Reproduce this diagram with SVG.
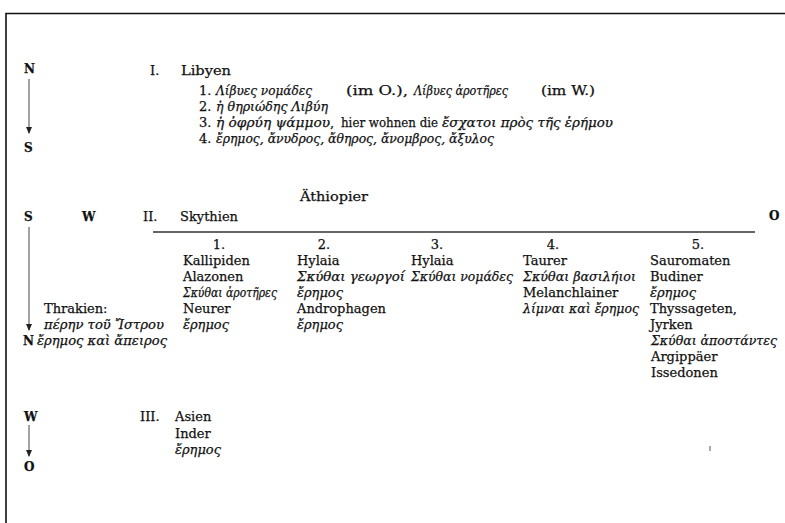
<svg xmlns="http://www.w3.org/2000/svg" width="785" height="523" viewBox="0 0 785 523">
<defs>
<style>
text{font-family:"DejaVu Serif","Liberation Serif",serif;font-size:13px;fill:#111;stroke:#111;stroke-width:0.25}
.i{font-style:italic}
.b{font-weight:bold;font-size:12px}
.ax{stroke:#444;stroke-width:1;fill:none}
</style>
</defs>
<rect width="785" height="523" fill="#fff"/>
<path d="M6,523 V13.5 H785" fill="none" stroke="#111" stroke-width="1.6"/>

<g id="connectors">
<line class="ax" x1="29" y1="79" x2="29" y2="133"/>
<path d="M26,127 L29,134 L32,127 Z" fill="#222"/>
<line class="ax" x1="29" y1="227" x2="29" y2="330"/>
<path d="M26,324 L29,331 L32,324 Z" fill="#222"/>
<line class="ax" x1="29" y1="425" x2="29" y2="456"/>
<path d="M26,450 L29,457 L32,450 Z" fill="#222"/>
<line x1="153" y1="232" x2="755" y2="232" stroke="#333" stroke-width="1.3"/>
<line x1="710" y1="446" x2="710" y2="451" stroke="#555" stroke-width="1"/>
</g>

<g id="compass1">
<text x="24" y="73" class="b">N</text>
<text x="24" y="152" class="b">S</text>
</g>

<g id="libyen">
<text x="150" y="75">I.</text>
<text x="181" y="75" textLength="50" lengthAdjust="spacingAndGlyphs">Libyen</text>
<text x="199" y="95">1.</text>
<text x="216" y="95" class="i" textLength="96" lengthAdjust="spacingAndGlyphs">Λίβυες νομάδες</text>
<text x="346" y="95" textLength="62" lengthAdjust="spacingAndGlyphs">(im O.),</text>
<text x="414" y="95" class="i" textLength="94" lengthAdjust="spacingAndGlyphs">Λίβυες ἀροτῆρες</text>
<text x="541" y="95" textLength="54" lengthAdjust="spacingAndGlyphs">(im W.)</text>
<text x="199" y="111">2.</text>
<text x="216" y="111" class="i" textLength="112" lengthAdjust="spacingAndGlyphs">ἡ θηριώδης Λιβύη</text>
<text x="199" y="127">3.</text>
<text x="216" y="127" class="i" textLength="114" lengthAdjust="spacingAndGlyphs">ἡ ὀφρύη ψάμμου</text>
<text x="330" y="127">,</text>
<text x="341" y="127" textLength="97" lengthAdjust="spacingAndGlyphs">hier wohnen die</text>
<text x="442" y="127" class="i" textLength="171" lengthAdjust="spacingAndGlyphs">ἔσχατοι πρὸς τῆς ἐρήμου</text>
<text x="199" y="143">4.</text>
<text x="216" y="143" class="i" textLength="278" lengthAdjust="spacingAndGlyphs">ἔρημος, ἄνυδρος, ἄθηρος, ἄνομβρος, ἄξυλος</text>
</g>

<g id="aethiopier">
<text x="300" y="201" textLength="68" lengthAdjust="spacingAndGlyphs">Äthiopier</text>
</g>

<g id="compass2">
<text x="24" y="221" class="b">S</text>
<text x="82" y="221" class="b">W</text>
<text x="769" y="220" class="b">O</text>
<text x="23" y="345" class="b">N</text>
</g>

<g id="skythien">
<text x="143" y="221">II.</text>
<text x="180" y="221">Skythien</text>
</g>

<g id="thrakien">
<text x="44" y="313">Thrakien:</text>
<text x="44" y="329" class="i" textLength="120" lengthAdjust="spacingAndGlyphs">πέρην τοῦ Ἴστρου</text>
<text x="37" y="345" class="i" textLength="130" lengthAdjust="spacingAndGlyphs">ἔρημος καὶ ἄπειρος</text>
</g>

<g id="col1">
<text x="219" y="249" text-anchor="middle">1.</text>
<text x="183" y="265">Kallipiden</text>
<text x="183" y="281">Alazonen</text>
<text x="183" y="297" class="i" textLength="94" lengthAdjust="spacingAndGlyphs">Σκύθαι ἀροτῆρες</text>
<text x="183" y="313">Neurer</text>
<text x="183" y="329" class="i">ἔρημος</text>
</g>

<g id="col2">
<text x="324" y="249" text-anchor="middle">2.</text>
<text x="297" y="265">Hylaia</text>
<text x="297" y="281" class="i" textLength="108" lengthAdjust="spacingAndGlyphs">Σκύθαι γεωργοί</text>
<text x="297" y="297" class="i">ἔρημος</text>
<text x="297" y="313">Androphagen</text>
<text x="297" y="329" class="i">ἔρημος</text>
</g>

<g id="col3">
<text x="437" y="249" text-anchor="middle">3.</text>
<text x="411" y="265">Hylaia</text>
<text x="411" y="281" class="i" textLength="102" lengthAdjust="spacingAndGlyphs">Σκύθαι νομάδες</text>
</g>

<g id="col4">
<text x="553" y="249" text-anchor="middle">4.</text>
<text x="523" y="265">Taurer</text>
<text x="523" y="281" class="i" textLength="113" lengthAdjust="spacingAndGlyphs">Σκύθαι βασιλήιοι</text>
<text x="523" y="297">Melanchlainer</text>
<text x="523" y="313" class="i" textLength="116" lengthAdjust="spacingAndGlyphs">λίμναι καὶ ἔρημος</text>
</g>

<g id="col5">
<text x="698" y="249" text-anchor="middle">5.</text>
<text x="650" y="265">Sauromaten</text>
<text x="650" y="281">Budiner</text>
<text x="650" y="297" class="i">ἔρημος</text>
<text x="650" y="313">Thyssageten,</text>
<text x="650" y="329">Jyrken</text>
<text x="651" y="345" class="i" textLength="126" lengthAdjust="spacingAndGlyphs">Σκύθαι ἀποστάντες</text>
<text x="651" y="361">Argippäer</text>
<text x="651" y="377">Issedonen</text>
</g>

<g id="compass3">
<text x="24" y="421" class="b">W</text>
<text x="24" y="471" class="b">O</text>
</g>

<g id="asien">
<text x="140" y="421">III.</text>
<text x="175" y="421">Asien</text>
<text x="175" y="438">Inder</text>
<text x="175" y="454" class="i">ἔρημος</text>
</g>
</svg>
